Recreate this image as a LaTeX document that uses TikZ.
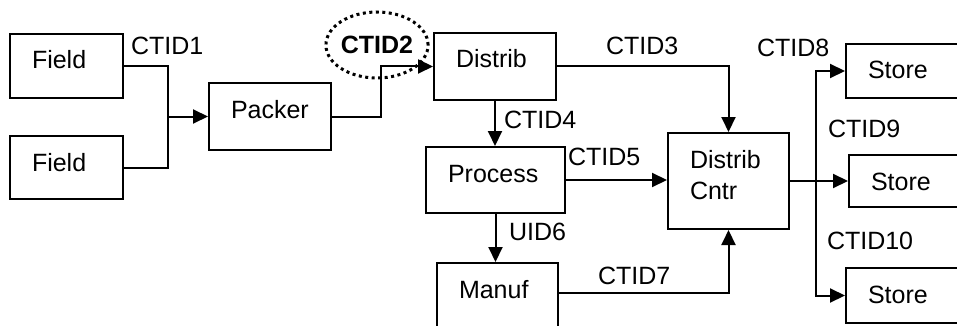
\documentclass[tikz,border=0pt]{standalone}
\usepackage{fontspec}
\setmainfont{Liberation Sans}
\usetikzlibrary{arrows.meta,shapes.geometric}
\tikzset{
	box/.style={draw,anchor=north west,align=left,inner xsep=22pt,inner ysep=0pt,text height=35pt},
	flow/.style={-{Triangle[length=15pt,width=14pt]}},
	tag/.style={anchor=west,inner sep=0pt}
}
\begin{document}
\begin{tikzpicture}[x=1pt,y=-1pt,line width=2pt,font=\fontsize{25}{31}\selectfont]
	\useasboundingbox (0,0) rectangle (957,326);
	\clip (0,0) rectangle (957,326);

	%boxes
	\node[box,text width=69pt,text depth=29pt] (field1) at (9,33) {Field}; %top field
	\node[box,text width=69pt,text depth=28pt] (field2) at (9,135) {Field}; %bottom field
	\node[box,text width=78pt,text depth=32pt] (packer) at (208,82) {Packer}; %packer
	\node[box,text width=78pt,text depth=32pt] (distrib) at (433,32) {Distrib}; %distributor
	\node[box,text width=95pt,text depth=31pt] (process) at (425,146) {Process}; %processor
	\node[box,text width=77pt,text depth=61pt] (dcntr) at (667,132) {Distrib\\Cntr}; %distribution centre
	\node[box,text width=77pt,text depth=40pt] (manuf) at (436,262) {Manuf}; %manufacturer
	\node[box,text width=106pt,text depth=19pt] (store1) at (845,43) {Store}; %store 1
	\node[box,text width=106pt,text depth=17pt] (store2) at (848,154) {Store}; %store 2
	\node[box,text width=106pt,text depth=20pt] (store3) at (845,267) {Store}; %store 3

	%joints
	\coordinate (fjoin) at (168,0); %fields join
	\coordinate (pjoin) at (381,0); %packer bend
	\coordinate (sjoin) at (816,0); %stores split

	%fields to packer
	\draw (field1.east) -| (fjoin |- field2.east) -- (field2.east);
	\draw[flow] (fjoin |- packer.west) -- (packer.west);
	\node[tag] (ctid1) at (130,46) {CTID1};

	%packer to distrib
	\draw[flow] (packer.east) -- (packer.east -| pjoin) |- (distrib.west);
	\node[ellipse,draw,line width=3pt,dash pattern=on 3pt off 3.5pt,minimum width=98pt,minimum height=66pt,inner sep=0pt] (ctid2) at (377,45) {\textbf{CTID2}}; %dotted ring

	%distrib out
	\draw[flow] (distrib.east) -| (dcntr.north);
	\node[tag] (ctid3) at (605,46) {CTID3};
	\draw[flow] (distrib.south) -- (distrib.south |- process.north);
	\node[tag] (ctid4) at (503,120) {CTID4};

	%process out
	\draw[flow] (process.east) -- (process.east -| dcntr.west);
	\node[tag] (ctid5) at (567,157) {CTID5};
	\draw[flow] (process.south) -- (process.south |- manuf.north);
	\node[tag] (uid6) at (508,232) {UID6};

	%manuf to centre
	\draw[flow] ([yshift=-31pt]manuf.north east) -| (dcntr.south);
	\node[tag] (ctid7) at (597,276) {CTID7};

	%centre to stores
	\draw[flow] (dcntr.east) -- (store2.west);
	\draw[flow] (sjoin |- dcntr.east) |- (store1.west);
	\draw[flow] (sjoin |- dcntr.east) |- (store3.west);
	\node[tag] (ctid8) at (756,48) {CTID8};
	\node[tag] (ctid9) at (827,129) {CTID9};
	\node[tag] (ctid10) at (826,241) {CTID10};

\end{tikzpicture}
\end{document}
